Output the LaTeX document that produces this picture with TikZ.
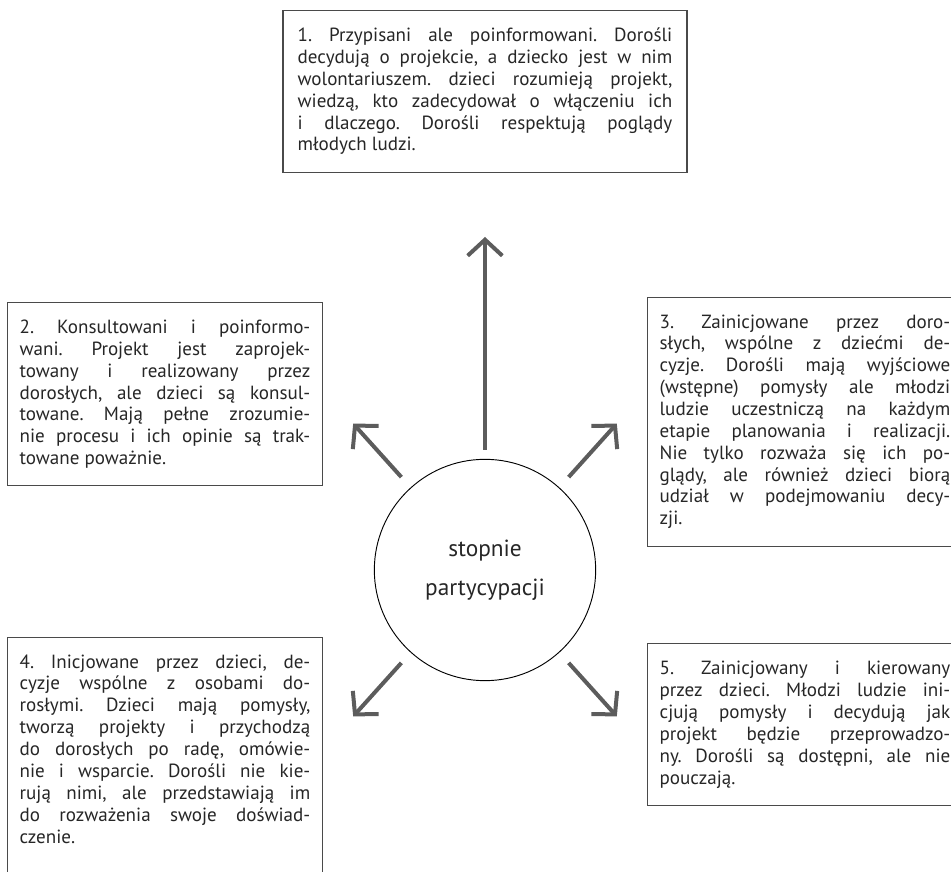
\documentclass[tikz,border=0pt]{standalone}
\usepackage{fontspec}
\setmainfont{PT Sans}
\usetikzlibrary{positioning, arrows.meta}
\definecolor{linegray}{HTML}{4A4A4A}
\definecolor{arrowgray}{HTML}{5C5C5C}
\definecolor{textgray}{HTML}{262626}
\hyphenpenalty=10000
\frenchspacing
\tikzset{
  stage/.style={draw=linegray, line width=0.8pt, text=textgray, align=justify,
    inner xsep=9pt, inner ysep=13pt, text width=218pt, anchor=north,
    font=\fontsize{14.3pt}{16.4pt}\selectfont},
  hub/.style={circle, draw=black, line width=0.7pt, minimum size=166pt, align=center,
    text=textgray, font=\fontsize{17.5pt}{29pt}\selectfont},
  flow/.style={draw=arrowgray, line width=3pt, -{Straight Barb[length=12pt,width=26pt]}}
}

\begin{document}
\begin{tikzpicture}[x=0.75pt, y=0.75pt, on grid]
  \useasboundingbox (0,0) rectangle (951,872);
  \node[hub](c) at (485,302){stopnie\\partycypacji};
  \node[stage, text width=281pt, inner xsep=11pt](s1)[above=420pt of c, anchor=north]{1. Przypisani ale poinformowani. Dorośli\linebreak
    decydują o projekcie, a dziecko jest w nim\linebreak
    wolontariuszem. dzieci rozumieją projekt,\linebreak
    wiedzą, kto zadecydował o włączeniu ich\linebreak
    i dlaczego. Dorośli respektują poglądy\linebreak
    młodych ludzi.};
  \node[stage](s2)[above left=201pt and 240pt of c, anchor=north]{2. Konsultowani i poinformo-\linebreak
    wani. Projekt jest zaprojek-\linebreak
    towany i realizowany przez\linebreak
    dorosłych, ale dzieci są konsul-\linebreak
    towane. Mają pełne zrozumie-\linebreak
    nie procesu i ich opinie są trak-\linebreak
    towane poważnie.};
  \node[stage](s3)[above right=205pt and 240pt of c, anchor=north]{3. Zainicjowane przez doro-\linebreak
    słych, wspólne z dziećmi de-\linebreak
    cyzje. Dorośli mają wyjściowe\linebreak
    (wstępne) pomysły ale młodzi\linebreak
    ludzie uczestniczą na każdym\linebreak
    etapie planowania i realizacji.\linebreak
    Nie tylko rozważa się ich po-\linebreak
    glądy, ale również dzieci biorą\linebreak
    udział w podejmowaniu decy-\linebreak
    zji.};
  % bottom edge runs off the page
  \node[stage](s4)[below left=50pt and 240pt of c, anchor=north]{4. Inicjowane przez dzieci, de-\linebreak
    cyzje wspólne z osobami do-\linebreak
    rosłymi. Dzieci mają pomysły,\linebreak
    tworzą projekty i przychodzą\linebreak
    do dorosłych po radę, omówie-\linebreak
    nie i wsparcie. Dorośli nie kie-\linebreak
    rują nimi, ale przedstawiają im\linebreak
    do rozważenia swoje doświad-\linebreak
    czenie.\par\vspace*{30pt}};
  \node[stage](s5)[below right=55pt and 240pt of c, anchor=north]{5. Zainicjowany i kierowany\linebreak
    przez dzieci. Młodzi ludzie ini-\linebreak
    cjują pomysły i decydują jak\linebreak
    projekt będzie przeprowadzo-\linebreak
    ny. Dorośli są dostępni, ale nie\linebreak
    pouczają.};
  % arrow ends around the circle
  \path (c) ++(90:120) coordinate (t1) ++(90:213) coordinate (h1);
  \path (c) ++(132:125) coordinate (t2) ++(132:72) coordinate (h2);
  \path (c) ++(48:125) coordinate (t3) ++(48:72) coordinate (h3);
  \path (c) ++(-132:125) coordinate (t4) ++(-132:72) coordinate (h4);
  \path (c) ++(-48:125) coordinate (t5) ++(-48:72) coordinate (h5);
  \foreach \i in {1,...,5}
    \draw[flow] (t\i) -- (h\i);
\end{tikzpicture}
\end{document}
